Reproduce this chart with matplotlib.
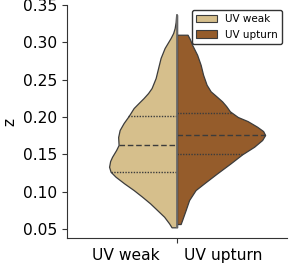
import numpy as np
import matplotlib
matplotlib.use("Agg")
import matplotlib.pyplot as plt
from matplotlib.patches import Patch

# Density profiles (relative width) of each half
weak_z = [0.3366, 0.3272, 0.3191, 0.3125, 0.3058, 0.2991, 0.2924, 0.2790, 0.2656,
          0.2522, 0.2388, 0.2321, 0.2254, 0.2187, 0.2120, 0.2013, 0.1919, 0.1826,
          0.1732, 0.1625, 0.1558, 0.1468, 0.1411, 0.1334, 0.1267, 0.1200, 0.1112,
          0.1022, 0.0933, 0.0844, 0.0754, 0.0665, 0.0576, 0.0523]
weak_d = [0.011, 0.017, 0.028, 0.045, 0.074, 0.108, 0.142, 0.188, 0.216,
          0.244, 0.290, 0.330, 0.381, 0.438, 0.494, 0.551, 0.608, 0.653,
          0.670, 0.665, 0.693, 0.739, 0.761, 0.773, 0.756, 0.699, 0.602,
          0.494, 0.398, 0.307, 0.227, 0.148, 0.091, 0.063]
upturn_z = [0.3102, 0.3035, 0.2968, 0.2834, 0.2700, 0.2566, 0.2432, 0.2344, 0.2281,
            0.2210, 0.2147, 0.2076, 0.2000, 0.1946, 0.1870, 0.1812, 0.1759, 0.1692,
            0.1602, 0.1500, 0.1380, 0.1246, 0.1112, 0.1022, 0.0888, 0.0754, 0.0621,
            0.0567]
upturn_d = [0.119, 0.148, 0.170, 0.227, 0.267, 0.295, 0.335, 0.381, 0.443,
            0.511, 0.557, 0.600, 0.690, 0.800, 0.909, 0.977, 1.000, 0.966,
            0.875, 0.739, 0.608, 0.455, 0.307, 0.210, 0.136, 0.097, 0.057,
            0.040]
weak_quartiles = [0.1267, 0.1625, 0.2009]
upturn_quartiles = [0.1500, 0.1759, 0.2053]

groups = ["UV weak", "UV upturn"]
colors = ["#d6bf8c", "#955c2b"]
yticks = [0.05, 0.10, 0.15, 0.20, 0.25, 0.30, 0.35]

fig = plt.figure(figsize=(2.93, 2.70), dpi=100)
ax = fig.add_axes([0.229, 0.1185, 0.751, 0.8630])

half = 0.4
edge = "#3c3c3c"
# left half (UV weak)
wz = np.array(weak_z); wd = np.array(weak_d) * half
ax.fill_betweenx(wz, -wd, 0, facecolor=colors[0], edgecolor=edge, linewidth=0.9, zorder=2)
# right half (UV upturn)
uz = np.array(upturn_z); ud = np.array(upturn_d) * half
ax.fill_betweenx(uz, 0, ud, facecolor=colors[1], edgecolor=edge, linewidth=0.9, zorder=2)

# quartile lines
def width_at(zs, ds, q):
    order = np.argsort(zs)
    return np.interp(q, np.asarray(zs)[order], np.asarray(ds)[order])

for i, q in enumerate(weak_quartiles):
    w = width_at(wz, wd, q)
    ls = (0, (4, 2)) if i == 1 else (0, (1, 1))
    ax.plot([-w, 0], [q, q], color=edge, lw=1.0, ls=ls, zorder=3)
for i, q in enumerate(upturn_quartiles):
    w = width_at(uz, ud, q)
    ls = (0, (4, 2)) if i == 1 else (0, (1, 1))
    ax.plot([0, w], [q, q], color=edge, lw=1.0, ls=ls, zorder=3)

ax.plot([0, 0], [min(wz.min(), uz.min()), wz.max()], color="#6a6a6a", lw=1.3, zorder=4)

ax.set_xlim(-0.5, 0.5)
ax.set_ylim(0.038, 0.35)
ax.set_yticks(yticks)
ax.set_yticklabels([f"{t:.2f}" for t in yticks])
ax.set_xticks([0])
ax.set_xticklabels([groups[0] + "     " + groups[1]])
ax.tick_params(labelsize=11.2, color="#333333")
ax.set_ylabel("z", fontsize=11.2)
for s in ["top", "right"]:
    ax.spines[s].set_visible(False)
for s in ["left", "bottom"]:
    ax.spines[s].set_color("#333333")

handles = [Patch(facecolor=colors[0], edgecolor=edge, linewidth=0.8, label=groups[0]),
           Patch(facecolor=colors[1], edgecolor=edge, linewidth=0.8, label=groups[1])]
leg = ax.legend(handles=handles, loc="upper right", fontsize=7.5, framealpha=1,
                edgecolor="#333333", fancybox=True)

fig.savefig("out.png", dpi=100)
